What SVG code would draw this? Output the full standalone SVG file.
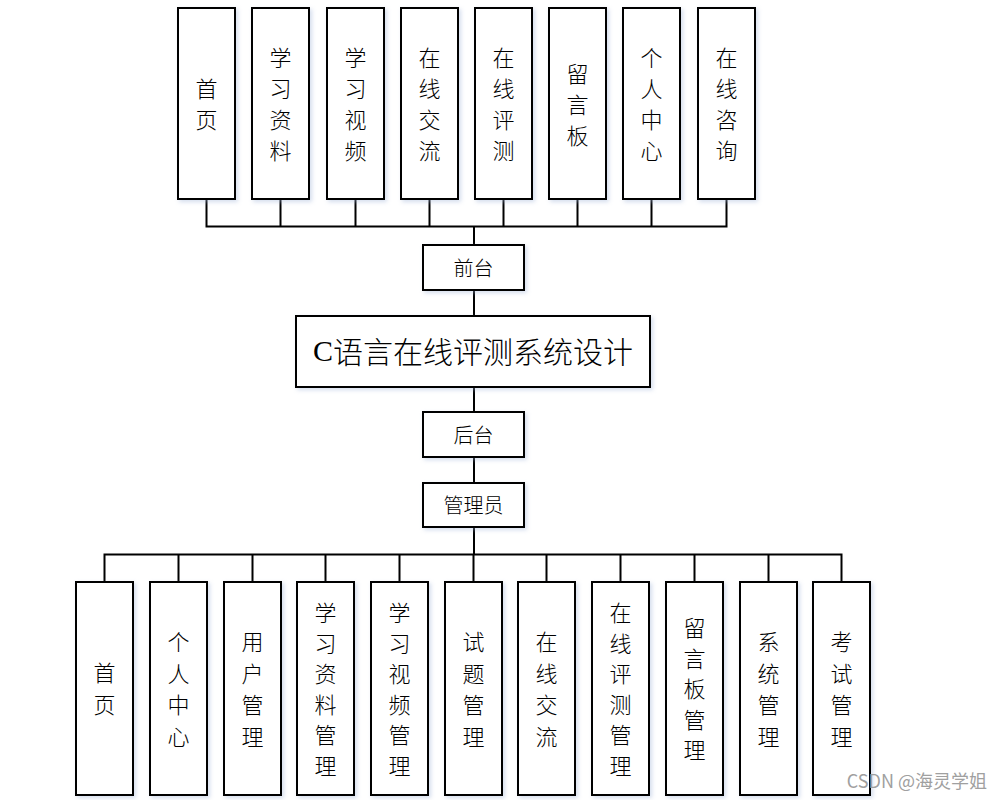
<svg xmlns="http://www.w3.org/2000/svg" width="1002" height="800" viewBox="0 0 1002 800">
<defs>
<filter id="sh" x="-20%" y="-20%" width="140%" height="140%"><feDropShadow dx="2" dy="2" stdDeviation="2" flood-color="#9fb4d8" flood-opacity="0.45"/></filter>
</defs>
<style>
.box{fill:#fff;stroke:#000;stroke-width:2;filter:url(#sh)}
.t{font-family:"Noto Sans CJK SC","Liberation Serif",serif;font-size:22px;font-weight:300;fill:#000;text-anchor:middle;dominant-baseline:central}
.m{font-size:20px}
.title{font-family:"Liberation Serif","Noto Sans CJK SC",serif;font-size:30px;fill:#000;text-anchor:middle;dominant-baseline:central}
.ln{stroke:#000;stroke-width:2;fill:none}
.wm{font-family:"Noto Sans CJK SC","Liberation Sans",sans-serif;font-size:18px;fill:#a0a0a0;text-anchor:end}
</style>
<rect width="1002" height="800" fill="#fff"/>
<g id="connectors">
<path class="ln" d="M206.5 199V226.5H726.5V199M280.5 199V226.5M355.5 199V226.5M429.5 199V226.5M503.5 199V226.5M577.5 199V226.5M651.5 199V226.5"/>
<path class="ln" d="M474 226V245" stroke-width="3"/>
<path class="ln" d="M474 290V316M474 387V412M474 457V483"/>
<path class="ln" d="M474 527V554" stroke-width="3"/>
<path class="ln" d="M104.5 582V554.5H841.5V582M178.5 554.5V582M252.5 554.5V582M325.5 554.5V582M399.5 554.5V582M473.5 554.5V582M546.5 554.5V582M620.5 554.5V582M694.5 554.5V582M768.5 554.5V582"/>
</g>
<g id="top-1"><rect class="box" x="178" y="8" width="57" height="191"/><text class="t"><tspan x="206.5" y="87">首</tspan><tspan x="206.5" y="118">页</tspan></text></g>
<g id="top-2"><rect class="box" x="252" y="8" width="57" height="191"/><text class="t"><tspan x="280.5" y="56">学</tspan><tspan x="280.5" y="87">习</tspan><tspan x="280.5" y="118">资</tspan><tspan x="280.5" y="149">料</tspan></text></g>
<g id="top-3"><rect class="box" x="327" y="8" width="57" height="191"/><text class="t"><tspan x="355.5" y="56">学</tspan><tspan x="355.5" y="87">习</tspan><tspan x="355.5" y="118">视</tspan><tspan x="355.5" y="149">频</tspan></text></g>
<g id="top-4"><rect class="box" x="401" y="8" width="57" height="191"/><text class="t"><tspan x="429.5" y="56">在</tspan><tspan x="429.5" y="87">线</tspan><tspan x="429.5" y="118">交</tspan><tspan x="429.5" y="149">流</tspan></text></g>
<g id="top-5"><rect class="box" x="475" y="8" width="57" height="191"/><text class="t"><tspan x="503.5" y="56">在</tspan><tspan x="503.5" y="87">线</tspan><tspan x="503.5" y="118">评</tspan><tspan x="503.5" y="149">测</tspan></text></g>
<g id="top-6"><rect class="box" x="549" y="8" width="57" height="191"/><text class="t"><tspan x="577.5" y="72">留</tspan><tspan x="577.5" y="103">言</tspan><tspan x="577.5" y="134">板</tspan></text></g>
<g id="top-7"><rect class="box" x="623" y="8" width="57" height="191"/><text class="t"><tspan x="651.5" y="56">个</tspan><tspan x="651.5" y="87">人</tspan><tspan x="651.5" y="118">中</tspan><tspan x="651.5" y="149">心</tspan></text></g>
<g id="top-8"><rect class="box" x="698" y="8" width="57" height="191"/><text class="t"><tspan x="726.5" y="56">在</tspan><tspan x="726.5" y="87">线</tspan><tspan x="726.5" y="118">咨</tspan><tspan x="726.5" y="149">询</tspan></text></g>
<g id="qiantai"><rect class="box" x="423" y="245" width="101" height="45"/><text class="t m" x="473.5" y="267">前台</text></g>
<g id="root"><rect class="box" x="296" y="316" width="354" height="71"/><text class="title" x="473" y="350">C<tspan font-family="Noto Sans CJK SC" font-weight="300">语言在线评测系统设计</tspan></text></g>
<g id="houtai"><rect class="box" x="423" y="412" width="101" height="45"/><text class="t m" x="473.5" y="434">后台</text></g>
<g id="admin"><rect class="box" x="423" y="483" width="101" height="44"/><text class="t m" x="473.5" y="504">管理员</text></g>
<g id="b-1"><rect class="box" x="76" y="582" width="57" height="213"/><text class="t"><tspan x="104.5" y="671">首</tspan><tspan x="104.5" y="703">页</tspan></text></g>
<g id="b-2"><rect class="box" x="150" y="582" width="57" height="213"/><text class="t"><tspan x="178.5" y="640">个</tspan><tspan x="178.5" y="671.5">人</tspan><tspan x="178.5" y="703">中</tspan><tspan x="178.5" y="734.5">心</tspan></text></g>
<g id="b-3"><rect class="box" x="224" y="582" width="57" height="213"/><text class="t"><tspan x="252.5" y="640">用</tspan><tspan x="252.5" y="671.5">户</tspan><tspan x="252.5" y="703">管</tspan><tspan x="252.5" y="734.5">理</tspan></text></g>
<g id="b-4"><rect class="box" x="297" y="582" width="57" height="213"/><text class="t"><tspan x="325.5" y="611">学</tspan><tspan x="325.5" y="641.5">习</tspan><tspan x="325.5" y="672">资</tspan><tspan x="325.5" y="702.5">料</tspan><tspan x="325.5" y="733">管</tspan><tspan x="325.5" y="763.5">理</tspan></text></g>
<g id="b-5"><rect class="box" x="371" y="582" width="57" height="213"/><text class="t"><tspan x="399.5" y="611">学</tspan><tspan x="399.5" y="641.5">习</tspan><tspan x="399.5" y="672">视</tspan><tspan x="399.5" y="702.5">频</tspan><tspan x="399.5" y="733">管</tspan><tspan x="399.5" y="763.5">理</tspan></text></g>
<g id="b-6"><rect class="box" x="445" y="582" width="57" height="213"/><text class="t"><tspan x="473.5" y="640">试</tspan><tspan x="473.5" y="671.5">题</tspan><tspan x="473.5" y="703">管</tspan><tspan x="473.5" y="734.5">理</tspan></text></g>
<g id="b-7"><rect class="box" x="518" y="582" width="57" height="213"/><text class="t"><tspan x="546.5" y="640">在</tspan><tspan x="546.5" y="671.5">线</tspan><tspan x="546.5" y="703">交</tspan><tspan x="546.5" y="734.5">流</tspan></text></g>
<g id="b-8"><rect class="box" x="592" y="582" width="57" height="213"/><text class="t"><tspan x="620.5" y="611">在</tspan><tspan x="620.5" y="641.5">线</tspan><tspan x="620.5" y="672">评</tspan><tspan x="620.5" y="702.5">测</tspan><tspan x="620.5" y="733">管</tspan><tspan x="620.5" y="763.5">理</tspan></text></g>
<g id="b-9"><rect class="box" x="666" y="582" width="57" height="213"/><text class="t"><tspan x="694.5" y="626">留</tspan><tspan x="694.5" y="656.5">言</tspan><tspan x="694.5" y="687">板</tspan><tspan x="694.5" y="717.5">管</tspan><tspan x="694.5" y="748">理</tspan></text></g>
<g id="b-10"><rect class="box" x="740" y="582" width="57" height="213"/><text class="t"><tspan x="768.5" y="640">系</tspan><tspan x="768.5" y="671.5">统</tspan><tspan x="768.5" y="703">管</tspan><tspan x="768.5" y="734.5">理</tspan></text></g>
<g id="b-11"><rect class="box" x="813" y="582" width="57" height="213"/><text class="t"><tspan x="841.5" y="640">考</tspan><tspan x="841.5" y="671.5">试</tspan><tspan x="841.5" y="703">管</tspan><tspan x="841.5" y="734.5">理</tspan></text></g>
<text class="wm" x="987" y="788">CSDN @海灵学姐</text>
</svg>
